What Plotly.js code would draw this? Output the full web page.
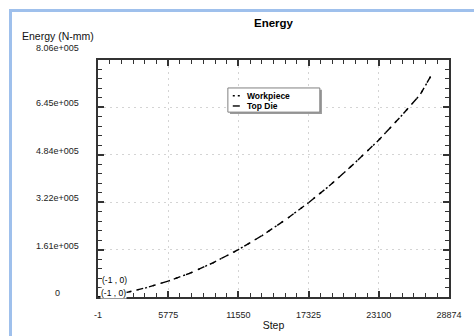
<!DOCTYPE html>
<html>
<head>
<meta charset="utf-8">
<script src="https://cdn.plot.ly/plotly-3.0.1.min.js"></script>
<style>
  html, body { margin: 0; padding: 0; background: #fff; }
  #wrap { position: relative; width: 474px; height: 336px; overflow: hidden; }
  #chart { position: absolute; left: 0; top: 0; width: 474px; height: 336px; }
  #frame { position: absolute; left: 9px; top: 9px; width: 470px; height: 340px;
           border-left: 3px solid #9fc0ec; border-top: 3px solid #9fc0ec; pointer-events: none; }
</style>
</head>
<body>
<div id="wrap"><div id="chart"></div><div id="frame"></div></div>
<script>
// ---- data ----
const steps = [-1, 1000, 2500, 4000, 5775, 7500, 9500, 11550, 13500, 15500, 17325, 19000, 21000, 23100, 25000, 26500, 27500];
const workpieceEnergy = [0, 5600, 17000, 32000, 54000, 80000, 117000, 161000, 209000, 265000, 321000, 377000, 451000, 534000, 618000, 688000, 760000];
const topDieEnergy = [0, 5600, 17000, 32000, 54000, 80000, 117000, 161000, 209000, 265000, 321000, 377000, 451000, 534000, 618000, 688000, 760000];
const seriesNames = ["Workpiece", "Top Die"];
const xTickVals = [-1, 5775, 11550, 17325, 23100, 28874];
const xTickText = ["-1", "5775", "11550", "17325", "23100", "28874"];
const yTickVals = [0, 161200, 322400, 483600, 644800, 806000];
const yTickText = ["0", "1.61e+005", "3.22e+005", "4.84e+005", "6.45e+005", "8.06e+005"];
const startLabel = "(-1 , 0)";

const font = "Liberation Sans, Arial, sans-serif";

const traces = [
  { x: steps, y: workpieceEnergy, name: seriesNames[0], mode: "lines",
    line: { color: "#000", width: 1.4, dash: "2px,6px" }, showlegend: false, hoverinfo: "skip" },
  { x: steps, y: topDieEnergy, name: seriesNames[1], mode: "lines",
    line: { color: "#000", width: 1.4, dash: "7px,6px" }, showlegend: false, hoverinfo: "skip" }
];

// custom compact legend (paper coords)
const lgX0 = 0.37, lgX1 = 0.632, lgY1 = 0.882, lgY0 = 0.78;
const shapes = [
  { type: "rect", xref: "paper", yref: "paper", x0: lgX0 + 0.006, x1: lgX1 + 0.006, y0: lgY0 - 0.008, y1: lgY1 - 0.008,
    fillcolor: "#9a9a9a", line: { width: 0 } },
  { type: "rect", xref: "paper", yref: "paper", x0: lgX0, x1: lgX1, y0: lgY0, y1: lgY1,
    fillcolor: "#fff", line: { color: "#808080", width: 1 } },
  { type: "line", xref: "paper", yref: "paper", x0: lgX0 + 0.014, x1: lgX0 + 0.037, y0: 0.849, y1: 0.849,
    line: { color: "#000", width: 1.4, dash: "2px,3px" } },
  { type: "line", xref: "paper", yref: "paper", x0: lgX0 + 0.014, x1: lgX0 + 0.034, y0: 0.806, y1: 0.806,
    line: { color: "#000", width: 1.4 } }
];

const annotations = [
  { xref: "paper", yref: "paper", x: lgX0 + 0.05, y: 0.849, xanchor: "left", yanchor: "middle",
    text: "<b>" + seriesNames[0] + "</b>", showarrow: false, font: { family: font, size: 8.5, color: "#000" } },
  { xref: "paper", yref: "paper", x: lgX0 + 0.05, y: 0.806, xanchor: "left", yanchor: "middle",
    text: "<b>" + seriesNames[1] + "</b>", showarrow: false, font: { family: font, size: 8.5, color: "#000" } },
  { xref: "paper", yref: "paper", x: -0.114, y: 1.1, xanchor: "center", yanchor: "middle",
    text: "Energy (N-mm)", showarrow: false, font: { family: font, size: 10.5, color: "#111" } },
  { xref: "x", yref: "y", x: steps[0], y: workpieceEnergy[0], xanchor: "left", yanchor: "middle",
    xshift: 2, yshift: 17, text: startLabel, showarrow: false, font: { family: font, size: 8.5, color: "#000" } },
  { xref: "x", yref: "y", x: steps[0], y: topDieEnergy[0], xanchor: "left", yanchor: "middle",
    xshift: 2, yshift: 4, text: startLabel, showarrow: false, bgcolor: "#fff", borderpad: 0,
    font: { family: font, size: 8.5, color: "#000" } }
];
// centred y tick labels (drawn at the tick values, slightly above; the top one sits above the frame)
yTickVals.forEach((v, i) => {
  const isTop = i === yTickVals.length - 1;
  annotations.push({ xref: "paper", yref: "y", x: -0.114, y: v, xanchor: "center", yanchor: "middle",
    yshift: isTop ? 12 : 4, text: yTickText[i], showarrow: false, font: { family: font, size: 9, color: "#222" } });
});

const axisCommon = {
  showline: true, linecolor: "#333", linewidth: 2, mirror: "allticks",
  ticks: "inside", ticklen: 6, tickwidth: 2, tickcolor: "#333",
  showgrid: true, gridcolor: "#d4d4d4", griddash: "2px,4px", gridwidth: 1,
  zeroline: false, tickfont: { family: font, size: 9, color: "#222" }
};

const layout = {
  width: 474, height: 336,
  margin: { l: 98, r: 25, t: 60, b: 39 },
  paper_bgcolor: "#fff", plot_bgcolor: "#fff",
  showlegend: false,
  title: { text: "<b>Energy</b>", x: 0.5, xref: "paper", y: 0.933, yanchor: "middle",
           font: { family: font, size: 11.5, color: "#000" } },
  xaxis: Object.assign({}, axisCommon, {
    range: [-1, 28874], tickmode: "array", tickvals: xTickVals, ticktext: xTickText,
    ticklabelstandoff: 8,
    minor: { ticks: "inside", ticklen: 4, tickwidth: 1, tickcolor: "#333", tick0: -1, dtick: 5775 / 6, showgrid: false },
    title: { text: "Step", standoff: 3, font: { family: font, size: 10.5, color: "#111" } }
  }),
  yaxis: Object.assign({}, axisCommon, {
    range: [0, 806000], tickmode: "array", tickvals: yTickVals, showticklabels: false,
    minor: { ticks: "inside", ticklen: 4, tickwidth: 1, tickcolor: "#333", tick0: 0, dtick: 161200 / 5, showgrid: false }
  }),
  shapes: shapes,
  annotations: annotations
};

Plotly.newPlot("chart", traces, layout, { staticPlot: true, displayModeBar: false });
</script>
</body>
</html>
